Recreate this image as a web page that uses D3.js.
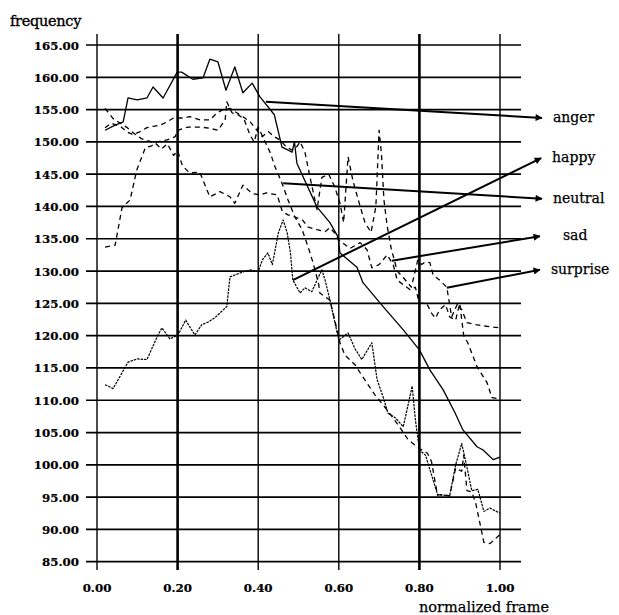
<!DOCTYPE html>
<html>
<head>
<meta charset="utf-8">
<script src="https://cdn.jsdelivr.net/npm/d3@7"></script>
<style>
  html, body { margin: 0; padding: 0; background: #fff; }
  svg { display: block; }
</style>
</head>
<body>
<svg id="chart" width="619" height="615"></svg>
<script>
// ---- data ----
const yTicks = [85, 90, 95, 100, 105, 110, 115, 120, 125, 130, 135, 140, 145, 150, 155, 160, 165];
const xTicks = [0, 0.2, 0.4, 0.6, 0.8, 1.0];
const thickX = [0.2, 0.8];

const anger = [[0.02,151.8],[0.045,152.6],[0.065,153.1],[0.077,156.8],[0.10,156.5],[0.124,156.8],[0.139,158.5],[0.164,156.8],[0.199,160.8],[0.21,160.8],[0.238,159.7],[0.263,159.9],[0.28,162.8],[0.30,162.4],[0.32,158.0],[0.342,161.6],[0.362,157.6],[0.385,159.1],[0.404,157],[0.44,154.2],[0.459,149.2],[0.472,148.8],[0.484,148.4],[0.49,150],[0.496,146.7],[0.546,139.9],[0.578,137.5],[0.598,135.3],[0.603,132.8],[0.645,130.6],[0.66,128.2],[0.71,124.5],[0.76,120.9],[0.80,117.8],[0.826,114.7],[0.859,111.6],[0.888,108.1],[0.908,105.4],[0.943,102.8],[0.958,102.3],[0.983,100.8],[1.0,101.2]];

const happy = [[0.02,112.4],[0.04,111.8],[0.077,115.9],[0.10,116.4],[0.124,116.3],[0.149,119.8],[0.161,121.2],[0.181,119.5],[0.201,120.1],[0.22,122.4],[0.243,120.1],[0.26,121.7],[0.276,122.1],[0.293,122.8],[0.322,124.5],[0.33,129.1],[0.355,129.7],[0.38,130.2],[0.40,129.9],[0.41,131.7],[0.424,132.8],[0.435,131.0],[0.45,135.9],[0.462,137.9],[0.472,135.9],[0.48,132.8],[0.486,128.6],[0.504,126.6],[0.516,127.4],[0.533,126.8],[0.546,128.6],[0.558,130.2],[0.566,128.6],[0.578,125.5],[0.6,119.3],[0.623,120.4],[0.64,118],[0.657,116.3],[0.682,118.9],[0.695,113.2],[0.71,110.5],[0.722,108],[0.74,107.3],[0.76,105.9],[0.772,109.3],[0.782,112.2],[0.79,107],[0.80,102.3],[0.815,101.5],[0.845,95.4],[0.875,95.2],[0.89,100],[0.905,103.3],[0.915,100.5],[0.93,96],[0.945,96.2],[0.96,92.8],[0.975,93.3],[1.0,92.5]];

const neutral = [[0.02,155.2],[0.04,153.6],[0.06,152.8],[0.075,152.2],[0.09,151.4],[0.11,150.5],[0.13,150.1],[0.145,149.8],[0.16,148.9],[0.175,149.7],[0.19,147.9],[0.20,148.6],[0.212,146.3],[0.23,145.2],[0.255,145.3],[0.27,143],[0.28,141.5],[0.305,142.3],[0.33,141.5],[0.342,140.5],[0.362,143.3],[0.385,142],[0.404,141.8],[0.42,142.1],[0.447,141.8],[0.46,139.2],[0.474,138.7],[0.49,138.4],[0.51,137.9],[0.524,136.8],[0.546,136.4],[0.566,136.1],[0.578,136.7],[0.59,135.9],[0.6,134.8],[0.628,133.5],[0.653,134.4],[0.67,133.3],[0.682,130.5],[0.70,131],[0.72,132.5],[0.735,131],[0.745,128.6],[0.777,127.1],[0.79,127.5],[0.80,125],[0.818,125],[0.83,123.5],[0.84,122.7],[0.85,124],[0.865,124.8],[0.875,122.9],[0.89,122.4],[0.9,125],[0.91,120],[0.92,118.9],[0.943,115.2],[0.968,112.7],[0.98,110.4],[1.0,110.2]];

const sad = [[0.02,133.7],[0.045,134],[0.062,139.8],[0.082,141],[0.099,145.7],[0.12,149.1],[0.136,149.4],[0.149,150],[0.174,150.3],[0.194,150.8],[0.2,151.8],[0.226,152.3],[0.256,152.3],[0.28,152.1],[0.30,151.8],[0.318,153.4],[0.322,156.2],[0.335,154.5],[0.35,154.2],[0.365,153.5],[0.38,151],[0.39,150],[0.40,152.3],[0.415,150.3],[0.43,148.3],[0.442,146.1],[0.459,143.6],[0.474,141],[0.491,138.4],[0.509,136.4],[0.524,133.7],[0.536,131.3],[0.55,128],[0.553,126.6],[0.578,125.5],[0.59,122.4],[0.603,118.9],[0.615,117],[0.64,115.5],[0.665,113.1],[0.69,110.8],[0.72,108.5],[0.747,106.2],[0.772,103.9],[0.80,102.5],[0.82,101.8],[0.83,100.5],[0.845,95.3],[0.86,95.4],[0.875,95.2],[0.89,99.5],[0.905,99],[0.91,101.5],[0.918,96],[0.93,95.8],[0.94,94],[0.96,88],[0.975,87.8],[1.0,89.2]];

const surprise = [[0.02,152.2],[0.035,152.9],[0.06,152.3],[0.075,151.5],[0.09,151.1],[0.107,151.6],[0.124,152.2],[0.139,152.4],[0.157,152.6],[0.174,153.1],[0.19,153.7],[0.213,153.7],[0.23,153.9],[0.256,153.4],[0.28,153.4],[0.298,154.5],[0.313,155],[0.33,155.2],[0.347,154.5],[0.362,153.9],[0.38,153.1],[0.397,151.8],[0.41,150.8],[0.425,151.6],[0.44,150.8],[0.454,150.3],[0.47,149.2],[0.485,148.7],[0.495,149.2],[0.504,150],[0.516,148.4],[0.53,144.1],[0.546,139.5],[0.558,144.5],[0.575,145],[0.59,143],[0.603,140.5],[0.612,137.5],[0.623,147.7],[0.635,144],[0.653,140],[0.665,137.5],[0.68,136],[0.692,140],[0.70,151.8],[0.706,148],[0.712,141],[0.72,137],[0.73,133.5],[0.745,130],[0.76,129],[0.78,127.5],[0.796,131.7],[0.806,131],[0.814,131.4],[0.826,131.3],[0.834,129.4],[0.85,128.6],[0.868,127.5],[0.88,122.9],[0.895,125],[0.905,124],[0.918,122],[0.94,121.7],[0.96,121.5],[1.0,121.2]];

const seriesNames = ["anger", "happy", "neutral", "sad", "surprise"];
const seriesData = [anger, happy, neutral, sad, surprise];
// arrow annotations (data units): start on the curve, end at the label
const arrowStart = [[0.419,156.2],[0.486,128.6],[0.462,143.6],[0.732,131.6],[0.868,127.4]];
const arrowEnd   = [[1.104,153.7],[1.102,147.5],[1.104,141.2],[1.099,135.4],[1.099,130.2]];

// ---- layout ----
const svg = d3.select("#chart");
const x = d3.scaleLinear().domain([0, 1]).range([97, 500]);
const y = d3.scaleLinear().domain([85, 165]).range([561.7, 45]);
const gridLeft = 86, gridRight = 521, vTop = 34, vBottom = 570;

const styles = {
  anger:    { dash: null,    w: 1.3 },
  happy:    { dash: "2.5,1", w: 1.2 },
  neutral:  { dash: "5,4",   w: 1.3 },
  sad:      { dash: "5,4",   w: 1.3 },
  surprise: { dash: "5,4",   w: 1.3 }
};

// horizontal grid
svg.append("g").selectAll("line").data(yTicks).join("line")
  .attr("x1", gridLeft).attr("x2", gridRight)
  .attr("y1", d => y(d)).attr("y2", d => y(d))
  .attr("stroke", "#000").attr("stroke-width", 1.7);

// vertical grid
svg.append("g").selectAll("line").data(xTicks).join("line")
  .attr("x1", d => x(d)).attr("x2", d => x(d))
  .attr("y1", vTop).attr("y2", vBottom)
  .attr("stroke", "#000")
  .attr("stroke-width", d => thickX.includes(d) ? 2.6 : 1.4);

// y tick labels
svg.append("g").selectAll("text").data(yTicks).join("text")
  .attr("x", 79).attr("y", d => y(d) + 4.5)
  .attr("text-anchor", "end")
  .attr("font-family", "DejaVu Serif").attr("font-weight", "bold")
  .attr("font-size", 11.8)
  .attr("stroke", "#000").attr("stroke-width", 0.2)
  .text(d => d.toFixed(2));

// x tick labels
svg.append("g").selectAll("text").data(xTicks).join("text")
  .attr("x", d => x(d)).attr("y", 592)
  .attr("text-anchor", "middle")
  .attr("font-family", "DejaVu Serif").attr("font-weight", "bold")
  .attr("font-size", 11.8)
  .attr("stroke", "#000").attr("stroke-width", 0.2)
  .text(d => d.toFixed(2));

// axis titles
svg.append("text").attr("x", 10).attr("y", 26)
  .attr("font-family", "DejaVu Serif").attr("font-size", 14.5)
  .attr("letter-spacing", -0.3)
  .attr("stroke", "#000").attr("stroke-width", 0.35)
  .text("frequency");
svg.append("text").attr("x", 419).attr("y", 612)
  .attr("font-family", "DejaVu Serif").attr("font-size", 14.5)
  .attr("stroke", "#000").attr("stroke-width", 0.25)
  .text("normalized frame");

// series lines
const line = d3.line().x(d => x(d[0])).y(d => y(d[1]));
svg.append("g").selectAll("path").data(seriesNames).join("path")
  .attr("d", (n, i) => line(seriesData[i]))
  .attr("fill", "none").attr("stroke", "#000")
  .attr("stroke-width", n => styles[n].w)
  .attr("stroke-dasharray", n => styles[n].dash)
  .attr("stroke-linejoin", "round");

// arrows
svg.append("defs").append("marker")
  .attr("id", "ah").attr("viewBox", "0 0 10 10")
  .attr("refX", 9).attr("refY", 5)
  .attr("markerWidth", 10).attr("markerHeight", 7)
  .attr("markerUnits", "userSpaceOnUse")
  .attr("orient", "auto")
  .append("path").attr("d", "M0,0 L10,5 L0,10 z").attr("fill", "#000");

svg.append("g").selectAll("line").data(seriesNames).join("line")
  .attr("x1", (n, i) => x(arrowStart[i][0])).attr("y1", (n, i) => y(arrowStart[i][1]))
  .attr("x2", (n, i) => x(arrowEnd[i][0])).attr("y2", (n, i) => y(arrowEnd[i][1]))
  .attr("stroke", "#000").attr("stroke-width", 2)
  .attr("marker-end", "url(#ah)");

// labels
svg.append("g").selectAll("text").data(seriesNames).join("text")
  .attr("x", (n, i) => x(arrowEnd[i][0]) + (n === "sad" ? 23 : 11))
  .attr("y", (n, i) => y(arrowEnd[i][1]) + 4)
  .attr("font-family", "DejaVu Serif").attr("font-size", 14)
  .attr("stroke", "#000").attr("stroke-width", 0.25)
  .text(n => n);
</script>
</body>
</html>
